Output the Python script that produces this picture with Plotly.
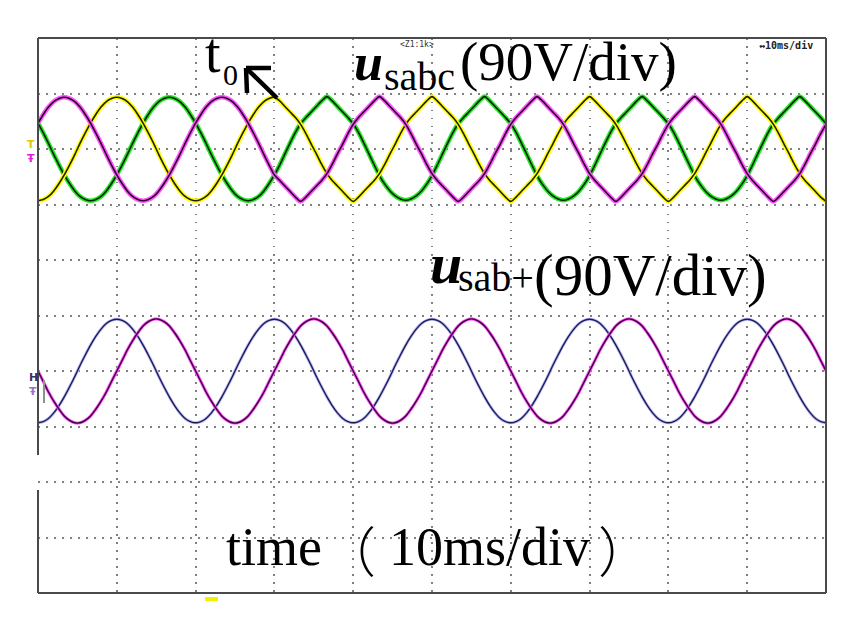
import plotly.graph_objects as go

# sample times (ms), 10 ms per division
t_ms = [0, 0.67, 1.33, 2, 2.67, 3.33, 4, 4.67, 5.33, 6, 6.67, 7.33, 8, 8.67, 9.33,
        10, 10.67, 11.33, 12, 12.67, 13.33, 14, 14.67, 15.33, 16, 16.67, 17.33, 18, 18.67, 19.33,
        20, 20.67, 21.33, 22, 22.67, 23.33, 24, 24.67, 25.33, 26, 26.67, 27.33, 28, 28.67, 29.33,
        30, 30.67, 31.33, 32, 32.67, 33.33, 34, 34.67, 35.33, 36, 36.67, 37.33, 38, 38.67, 39.33,
        40, 40.67, 41.33, 42, 42.67, 43.33, 44, 44.67, 45.33, 46, 46.67, 47.33, 48, 48.67, 49.33,
        50, 50.67, 51.33, 52, 52.67, 53.33, 54, 54.67, 55.33, 56, 56.67, 57.33, 58, 58.67, 59.33,
        60, 60.67, 61.33, 62, 62.67, 63.33, 64, 64.67, 65.33, 66, 66.67, 67.33, 68, 68.67, 69.33,
        70, 70.67, 71.33, 72, 72.67, 73.33, 74, 74.67, 75.33, 76, 76.67, 77.33, 78, 78.67, 79.33,
        80, 80.67, 81.33, 82, 82.67, 83.33, 84, 84.67, 85.33, 86, 86.67, 87.33, 88, 88.67, 89.33,
        90, 90.67, 91.33, 92, 92.67, 93.33, 94, 94.67, 95.33, 96, 96.67, 97.33, 98, 98.67, 99.33,
        100]

# top channel u_sabc (V) (clean before t0, distorted after)
u_sa = [42, 56, 68, 77, 82,
        84, 82, 77, 68, 56, 42, 26, 9, -9, -26, -42, -56, -68, -77, -82, -84, -82, -77, -68, -56, -42, -26, -9, 9, 26, 42, 56, 68, 77, 82,
        84, 82, 77, 68, 56, 42, 26, 9, -9, -26, -42,
        -51, -60, -69, -78, -85, -78, -69, -60, -51, -40, -25, -8, 8, 25, 40, 51, 60, 69, 78,
        85, 78, 69, 60, 51, 40, 25, 8, -8, -25, -40, -51, -60, -69, -78, -85, -78, -69, -60, -51, -40, -25, -8, 8, 25, 40, 51, 60, 69, 78,
        85, 78, 69, 60, 51, 40, 25, 8, -8, -25, -40, -51, -60, -69, -78, -85, -78, -69, -60, -51, -40, -25, -8, 8, 25, 40, 51, 60, 69, 78,
        85, 78, 69, 60, 51, 40, 25, 8, -8, -25, -40, -51, -60, -69, -78, -85, -78, -69, -60, -51, -40, -25, -8, 8, 25, 40]

u_sb = [-84, -82, -77, -68, -56, -42, -26, -9, 9, 26, 42, 56, 68, 77, 82,
        84, 82, 77, 68, 56, 42, 26, 9, -9, -26, -42, -56, -68, -77, -82, -84, -82, -77, -68, -56, -42, -26, -9, 9, 26, 42, 56, 68, 77, 82,
        84,
        78, 69, 60, 51, 40, 25, 8, -8, -25, -40, -51, -60, -69, -78, -85, -78, -69, -60, -51, -40, -25, -8, 8, 25, 40, 51, 60, 69, 78,
        85, 78, 69, 60, 51, 40, 25, 8, -8, -25, -40, -51, -60, -69, -78, -85, -78, -69, -60, -51, -40, -25, -8, 8, 25, 40, 51, 60, 69, 78,
        85, 78, 69, 60, 51, 40, 25, 8, -8, -25, -40, -51, -60, -69, -78, -85, -78, -69, -60, -51, -40, -25, -8, 8, 25, 40, 51, 60, 69, 78,
        85, 78, 69, 60, 51, 40, 25, 8, -8, -25, -40, -51, -60, -69, -78, -85]

u_sc = [42, 26, 9, -9, -26, -42, -56, -68, -77, -82, -84, -82, -77, -68, -56, -42, -26, -9, 9, 26, 42, 56, 68, 77, 82,
        84, 82, 77, 68, 56, 42, 26, 9, -9, -26, -42, -56, -68, -77, -82, -84, -82, -77, -68, -56, -42,
        -26, -8, 10, 27, 41, 51, 60, 69, 78,
        85, 78, 69, 60, 51, 41, 27, 10, -8, -26, -43, -57, -68, -76, -81, -83, -81, -76, -68, -57, -43, -26, -8, 10, 27, 41, 51, 60, 69, 78,
        85, 78, 69, 60, 51, 41, 27, 10, -8, -26, -43, -57, -68, -76, -81, -83, -81, -76, -68, -57, -43, -26, -8, 10, 27, 41, 51, 60, 69, 78,
        85, 78, 69, 60, 51, 41, 27, 10, -8, -26, -43, -57, -68, -76, -81, -83, -81, -76, -68, -57, -43, -26, -8, 10, 27, 41, 51, 60, 69, 78,
        85, 78, 69, 60, 51, 41]

# bottom channel u_sab+ (V)
u_pos_1 = [-84, -82, -77, -68, -56, -42, -26, -9, 9, 26, 42, 56, 68, 77, 82,
           84, 82, 77, 68, 56, 42, 26, 9, -9, -26, -42, -56, -68, -77, -82, -84, -82, -77, -68, -56, -42, -26, -9, 9, 26, 42, 56, 68, 77, 82,
           84, 82, 77, 68, 56, 42, 26, 9, -9, -26, -42, -56, -68, -77, -82, -84, -82, -77, -68, -56, -42, -26, -9, 9, 26, 42, 56, 68, 77, 82,
           84, 82, 77, 68, 56, 42, 26, 9, -9, -26, -42, -56, -68, -77, -82, -84, -82, -77, -68, -56, -42, -26, -9, 9, 26, 42, 56, 68, 77, 82,
           84, 82, 77, 68, 56, 42, 26, 9, -9, -26, -42, -56, -68, -77, -82, -84, -82, -77, -68, -56, -42, -26, -9, 9, 26, 42, 56, 68, 77, 82,
           84, 82, 77, 68, 56, 42, 26, 9, -9, -26, -42, -56, -68, -77, -82, -84]

u_pos_2 = [0, -17, -34, -49, -62, -73, -80, -84, -84, -80, -73, -62, -49, -34, -17, 0, 17, 34, 49, 62, 73, 80,
           84, 84, 80, 73, 62, 49, 34, 17, 0, -17, -34, -49, -62, -73, -80, -84, -84, -80, -73, -62, -49, -34, -17, 0, 17, 34, 49, 62, 73, 80,
           84, 84, 80, 73, 62, 49, 34, 17, 0, -17, -34, -49, -62, -73, -80, -84, -84, -80, -73, -62, -49, -34, -17, 0, 17, 34, 49, 62, 73, 80,
           84, 84, 80, 73, 62, 49, 34, 17, 0, -17, -34, -49, -62, -73, -80, -84, -84, -80, -73, -62, -49, -34, -17, 0, 17, 34, 49, 62, 73, 80,
           84, 84, 80, 73, 62, 49, 34, 17, 0, -17, -34, -49, -62, -73, -80, -84, -84, -80, -73, -62, -49, -34, -17, 0, 17, 34, 49, 62, 73, 80,
           84, 84, 80, 73, 62, 49, 34, 17, 0]

# page offset of the figure inside the browser (body margin)
OFF = 8
W, H = 860 - OFF, 638 - OFF
# plot area in screenshot pixels
L, R, T, B = 38, 826, 38, 593

fig = go.Figure()


def scope_trace(y, glow, core, yaxis, gw, cw):
    for col, w in ((glow, gw), (core, cw)):
        fig.add_trace(go.Scatter(x=t_ms, y=y, mode='lines', yaxis=yaxis,
                                 line=dict(color=col, width=w, shape='spline', smoothing=0.8),
                                 hoverinfo='skip', showlegend=False))


scope_trace(u_pos_1, '#b8b8ff', '#1c1c4c', 'y2', 3.0, 1.4)
scope_trace(u_pos_2, '#ff55ff', '#3a003a', 'y2', 3.2, 1.4)
scope_trace(u_sc, '#22e622', '#0a200a', 'y', 4.6, 1.6)
scope_trace(u_sb, '#ffff00', '#202000', 'y', 4.6, 1.6)
scope_trace(u_sa, '#ff55ff', '#2a002a', 'y', 4.6, 1.6)


def PX(x):
    return (x - L) / (R - L)


def PY(y):
    return (B - y) / (B - T)


SERIF = 'Liberation Serif, Times New Roman, serif'
CJK = 'Noto Sans CJK SC, serif'
ann = []


def text(s, x, base, fs, family=SERIF, color='black', weight=None):
    font = dict(size=fs, family=family, color=color)
    if weight is not None:
        font['weight'] = weight
    ann.append(dict(text=s, x=PX(x), y=PY(base - 0.34 * fs), xref='paper', yref='paper',
                    xanchor='left', yanchor='middle', showarrow=False, font=font))


text('t', 203, 72, 56)
text('0', 221, 85, 30)
text('<b><i>u</i></b>', 352, 80, 52)
text('sabc', 382, 90, 40)
text('(90V/div)', 458, 80, 55)
text('<b><i>u</i></b>', 428, 283, 58)
text('sab+', 456, 291, 40)
text('(90V/div)', 532, 295, 59)
text('time', 224, 565, 54)
text('（', 320, 567, 54, family=CJK, weight=200)
text('10ms/div', 387, 565, 54)
text('）', 596, 567, 54, family=CJK, weight=200)
text('&lt;Z1:1k&gt;', 398, 47, 8, family='DejaVu Sans Mono, monospace', color='#333333')
text('<b>↔10ms/div</b>', 757, 49, 10, family='DejaVu Sans Mono, monospace', color='#222222')
ann.append(dict(text='<b><span style="color:#e0c800">T</span><br><span style="color:#e020e0">Ŧ</span></b>',
                x=PX(25), y=PY(151), xref='paper', yref='paper', xanchor='left', yanchor='middle',
                showarrow=False, font=dict(size=11, family='DejaVu Sans, sans-serif'), align='left'))
ann.append(dict(text='<b><span style="color:#303070">H</span><br><span style="color:#a070d0">Ŧ</span></b>',
                x=PX(27), y=PY(384), xref='paper', yref='paper', xanchor='left', yanchor='middle',
                showarrow=False, font=dict(size=11, family='DejaVu Sans, sans-serif'), align='left'))

shapes = []
frame_col = '#4a4a4a'


def seg(x0, y0, x1, y1, color=frame_col, width=2):
    shapes.append(dict(type='line', xref='paper', yref='paper', x0=PX(x0), y0=PY(y0), x1=PX(x1), y1=PY(y1),
                       line=dict(color=color, width=width)))


seg(L, T, R, T)
seg(L, B, R, B)
seg(R, T, R, B)
seg(L, T, L, 455)
seg(L, 490, L, B)
seg(44, 380, 44, 403, color='#909090', width=2)
# arrow at t0
seg(277, 98, 246, 68, color='black', width=4.5)
seg(246, 68, 247, 93, color='black', width=4.5)
seg(246, 68, 271, 68, color='black', width=4.5)
shapes.append(dict(type='rect', xref='paper', yref='paper', x0=PX(205), x1=PX(218), y0=PY(601), y1=PY(597),
                   line=dict(width=0), fillcolor='#f0f000'))

grid = dict(showgrid=True, gridcolor='#808080', gridwidth=1.5, griddash='1.5px,6.5px',
            showticklabels=False, zeroline=False, showline=False, ticks='')

fig.update_layout(
    width=W, height=H, autosize=False,
    margin=dict(l=L - OFF, r=W - (R - OFF), t=T - OFF, b=H - (B - OFF), pad=0),
    paper_bgcolor='white', plot_bgcolor='white',
    xaxis=dict(range=[0, 100], tick0=0, dtick=10, **grid),
    yaxis=dict(range=[-720, 180], tick0=0, dtick=90, **grid),
    yaxis2=dict(range=[-360, 540], overlaying='y', showgrid=False, showticklabels=False,
                zeroline=False, showline=False, ticks=''),
    annotations=ann, shapes=shapes, showlegend=False,
)

fig.write_html('out.html')
